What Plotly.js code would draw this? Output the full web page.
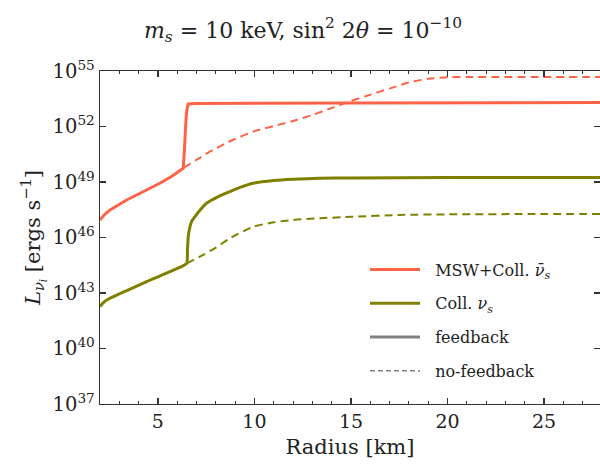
<!DOCTYPE html>
<html>
<head>
<meta charset="utf-8">
<script src="https://cdn.plot.ly/plotly-3.0.1.min.js"></script>
<style>html,body{margin:0;padding:0;background:#fff}#chart{width:600px;height:471px}</style>
</head>
<body>
<div id="chart"></div>
<script>
// Radius [km] and log10 luminosity [erg/s]
const redFbX = [2, 2.25, 2.52, 3.0, 3.38, 4.0, 4.5, 5.1, 5.7, 6.31, 6.36, 6.40, 6.45, 6.50, 6.57, 7, 8, 10, 15, 20, 25, 27.9];
const redFbLog = [46.95, 47.25, 47.49, 47.8, 48.03, 48.35, 48.62, 48.93, 49.3, 49.74, 50.5, 51.5, 52.3, 52.9, 53.22, 53.24, 53.25, 53.26, 53.27, 53.28, 53.29, 53.3];
const redNfX = [6.33, 7.0, 7.85, 8.88, 10, 11, 12, 13, 14, 15, 16, 17, 18, 19, 20, 21, 25, 27.9];
const redNfLog = [49.76, 50.2, 50.73, 51.27, 51.75, 52.02, 52.3, 52.62, 53.0, 53.38, 53.72, 54.05, 54.38, 54.58, 54.66, 54.68, 54.68, 54.68];
const oliveFbX = [2, 2.15, 2.35, 3, 3.5, 4.41, 5.5, 6.49, 6.53, 6.57, 6.66, 6.75, 6.91, 7.2, 7.52, 8.1, 8.73, 9.3, 9.93, 11, 12, 13.38, 15, 20, 25, 27.9];
const oliveFbLog = [42.26, 42.45, 42.62, 42.95, 43.18, 43.61, 44.1, 44.6, 45.3, 46.04, 46.58, 46.88, 47.12, 47.5, 47.85, 48.2, 48.48, 48.72, 48.93, 49.08, 49.15, 49.2, 49.22, 49.24, 49.25, 49.25];
const oliveNfX = [6.49, 7.17, 8.0, 8.73, 9.93, 11, 12, 13.38, 15, 17.52, 20, 25, 27.9];
const oliveNfLog = [44.6, 44.96, 45.45, 45.96, 46.58, 46.82, 46.95, 47.04, 47.12, 47.22, 47.25, 47.27, 47.27];
const yTickExp = [37, 40, 43, 46, 49, 52, 55];
const seriesNames = ["MSW+Coll. <i>ν̄<sub>s</sub></i>", "Coll. <i>ν<sub>s</sub></i>", "feedback", "no-feedback"];

const RED = "#ff6347", OLIVE = "#808000", GRAY = "#808080";
const pw = a => a.map(v => Math.pow(10, v));
const FONT = "'DejaVu Serif', serif";
const PAD = "\u00a0\u00a0";

const traces = [
  {x: redFbX, y: pw(redFbLog), mode: "lines", name: PAD + seriesNames[0], legendgroup: "a",
   line: {color: RED, width: 3}},
  {x: oliveFbX, y: pw(oliveFbLog), mode: "lines", name: PAD + seriesNames[1], legendgroup: "b",
   line: {color: OLIVE, width: 3, shape: "spline", smoothing: 0.5}},
  {x: redNfX, y: pw(redNfLog), mode: "lines", showlegend: false,
   line: {color: RED, width: 2, dash: "8px,5px", shape: "spline", smoothing: 0.6}},
  {x: oliveNfX, y: pw(oliveNfLog), mode: "lines", showlegend: false,
   line: {color: OLIVE, width: 2, dash: "8px,5px", shape: "spline", smoothing: 0.6}},
  {x: [null], y: [null], mode: "lines", name: PAD + seriesNames[2], legendgroup: "c",
   line: {color: GRAY, width: 3}},
  {x: [null], y: [null], mode: "lines", name: PAD + seriesNames[3], legendgroup: "d",
   line: {color: GRAY, width: 1.5, dash: "5px,3px"}}
];

const layout = {
  width: 600, height: 471,
  margin: {l: 100, r: 0, t: 71, b: 67},
  paper_bgcolor: "#fff", plot_bgcolor: "#fff",
  font: {family: FONT, color: "#222", size: 19},
  title: {text: "<i>m<sub>s</sub></i> = 10 keV, sin<sup>2</sup> 2<i>θ</i> = 10<sup>−10</sup>",
          font: {size: 22, family: FONT, color: "#222"},
          x: 0.505, xanchor: "center", y: 1 - 30/471, yanchor: "middle", yref: "container"},
  xaxis: {range: [2, 27.9], tick0: 0, dtick: 5, ticks: "inside", ticklen: 6, tickwidth: 1.2,
          tickcolor: "#333", showline: true, linecolor: "#333", linewidth: 1.3, mirror: "allticks",
          showgrid: false, zeroline: false,
          minor: {dtick: 1, ticks: "inside", ticklen: 3, tickcolor: "#333", tickwidth: 1, showgrid: false},
          tickfont: {size: 19, family: FONT},
          title: {text: "Radius [km]", font: {size: 21, family: FONT}, standoff: 8}},
  yaxis: {type: "log", range: [37, 55], tickvals: pw(yTickExp),
          ticktext: yTickExp.map(e => "10<sup>" + e + "</sup>"),
          ticks: "inside", ticklen: 6, tickwidth: 1.2, tickcolor: "#333",
          showline: true, linecolor: "#333", linewidth: 1.3, mirror: "allticks",
          showgrid: false, zeroline: false, tickfont: {size: 19.5, family: FONT},
          title: {text: "<i>L</i><sub><i>ν<sub>i</sub></i></sub> [ergs s<sup>−1</sup>]",
                  font: {size: 21, family: FONT}, standoff: 6}},
  legend: {x: 0.53, y: 0.455, xanchor: "left", yanchor: "top", bgcolor: "rgba(0,0,0,0)",
           borderwidth: 0, font: {size: 16, family: FONT}, traceorder: "grouped",
           tracegroupgap: 10, itemwidth: 50},
  showlegend: true
};

Plotly.newPlot("chart", traces, layout, {staticPlot: true, displayModeBar: false});
</script>
</body>
</html>
